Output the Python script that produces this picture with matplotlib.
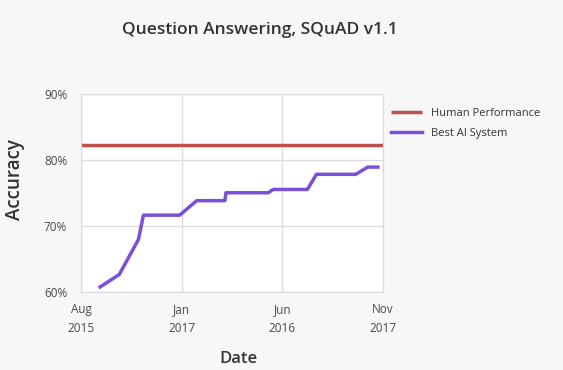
import matplotlib.pyplot as plt

# x positions are in "tick units" (0 = first tick label, 3 = last)
tick_labels = ['Aug\n2015', 'Jan\n2017', 'Jun\n2016', 'Nov\n2017']
human_x = [0, 3]
human_acc = [82.3, 82.3]

ai_x = [0.19, 0.38, 0.57, 0.62, 0.98, 1.15, 1.43, 1.44, 1.86, 1.91,
        2.25, 2.34, 2.73, 2.85, 2.95]
ai_acc = [60.7, 62.6, 67.9, 71.6, 71.6, 73.8, 73.8, 75.0, 75.0, 75.5,
          75.5, 77.8, 77.8, 78.9, 78.9]

plt.rcParams['font.family'] = ['Open Sans', 'DejaVu Sans']

fig = plt.figure(figsize=(5.63, 3.70), dpi=100, facecolor='#f7f7f7')
ax = fig.add_axes([0.144, 0.212, 0.536, 0.534])
ax.set_facecolor('white')

ax.plot(human_x, human_acc, color='#c0504d', lw=2.5, label='Human Performance',
        solid_capstyle='butt')
ax.plot(ai_x, ai_acc, color='#7b4fd6', lw=2.5, label='Best AI System')

ax.set_xlim(0, 3)
ax.set_ylim(60, 90)
ax.set_xticks(range(4))
ax.set_xticklabels(tick_labels, linespacing=1.6)
ax.set_yticks([60, 70, 80, 90])
ax.set_yticklabels(['60%', '70%', '80%', '90%'])
ax.grid(True, color='#dcdcdc', lw=1)
ax.tick_params(length=0, labelsize=8.5, colors='#4a4a4a')
ax.tick_params(axis='y', pad=10)
ax.tick_params(axis='x', pad=8)
for s in ax.spines.values():
    s.set_color('#dcdcdc')

ax.legend(loc='upper left', bbox_to_anchor=(0.995, 0.98), frameon=False,
          fontsize=8, handlelength=2.8, labelspacing=0.85, labelcolor='#333333')

fig.text(0.461, 0.918, 'Question Answering, SQuAD v1.1', ha='center', va='center',
         fontsize=12.5, fontweight='semibold', color='#333333')
fig.text(0.027, 0.515, 'Accuracy', rotation=90, ha='center', va='center',
         fontsize=13.5, fontweight='semibold', color='#333333')
fig.text(0.423, 0.03, 'Date', ha='center', va='center',
         fontsize=12, fontweight='semibold', color='#333333')

plt.savefig('out.png', dpi=100, facecolor=fig.get_facecolor())
